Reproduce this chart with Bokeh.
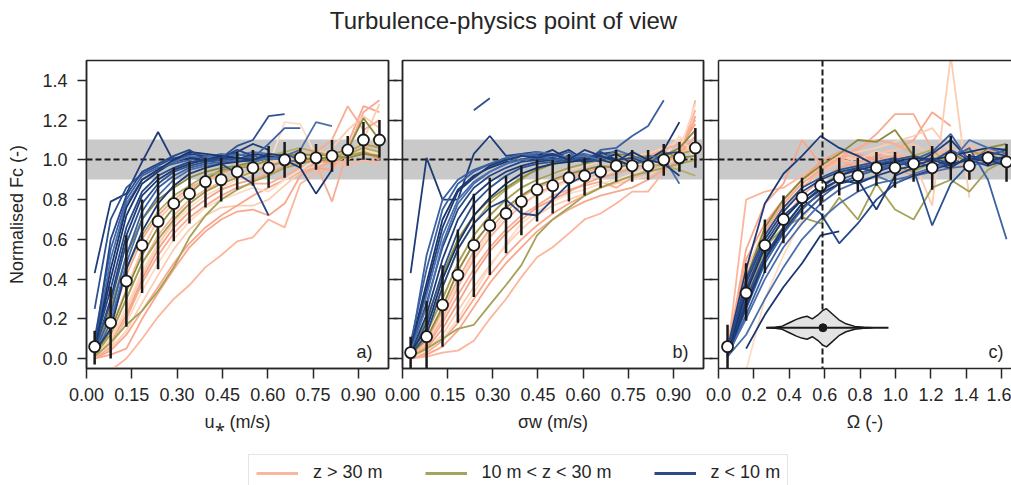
import numpy as np
from bokeh.plotting import figure
from bokeh.layouts import column, row
from bokeh.models import (Range1d, LinearAxis, FixedTicker, PrintfTickFormatter,
                          Label, Legend, LegendItem)
from bokeh.embed import file_html
from bokeh.resources import INLINE

FONT = "Liberation Sans"
INK = "#262626"

# ---------------- data ----------------
fc_ticks = [0.0, 0.2, 0.4, 0.6, 0.8, 1.0, 1.2, 1.4]
vel_ticks = [0.0, 0.15, 0.30, 0.45, 0.60, 0.75, 0.90]
omega_ticks = [0.0, 0.2, 0.4, 0.6, 0.8, 1.0, 1.2, 1.4, 1.6]

# panel a: friction velocity
ustar_bins = [0.027, 0.080, 0.132, 0.184, 0.237, 0.289, 0.341, 0.394, 0.446, 0.499,
              0.551, 0.603, 0.656, 0.708, 0.760, 0.813, 0.865, 0.917, 0.970]
ustar_mean = [0.06, 0.18, 0.39, 0.57, 0.69, 0.78, 0.83, 0.89, 0.90, 0.94,
              0.96, 0.96, 1.00, 1.01, 1.01, 1.02, 1.05, 1.10, 1.10]
ustar_lo = [-0.03, 0.00, 0.16, 0.33, 0.45, 0.59, 0.68, 0.76, 0.79, 0.85,
            0.87, 0.86, 0.91, 0.96, 0.95, 0.94, 0.97, 1.00, 1.01]
ustar_hi = [0.14, 0.36, 0.62, 0.80, 0.93, 0.96, 0.99, 1.01, 1.01, 1.04,
            1.05, 1.07, 1.09, 1.06, 1.08, 1.10, 1.12, 1.19, 1.20]
ustar_high = [  # z > 30 m
    [None, -0.06, 0.00, 0.10, 0.21, 0.30, 0.37, 0.46, 0.52, 0.59, 0.61, 0.70, 0.66, 0.88, 0.93, 0.96, 1.00, 1.05, 1.02],
    [0.00, 0.02, 0.05, 0.20, 0.33, 0.45, 0.56, 0.64, 0.70, 0.74, 0.75, 0.72, 0.78, 0.92, 0.96, 0.95, 1.08, 1.27, 1.24],
    [0.01, 0.05, 0.14, 0.28, 0.42, 0.55, 0.65, 0.72, 0.76, 0.77, 0.77, 0.80, 0.87, 0.94, 0.97, 1.00, 1.02, 1.10, 1.28],
    [0.00, 0.06, 0.20, 0.38, 0.52, 0.63, 0.71, 0.77, 0.82, 0.86, 0.88, 0.88, 0.92, 0.96, 0.98, 0.79, 1.05, 1.24, 1.30],
    [0.02, 0.10, 0.26, 0.44, 0.58, 0.68, 0.76, 0.82, 0.86, 0.90, 0.93, 0.97, 1.19, 1.18, 1.02, 1.01, 1.04, 1.08, 1.12],
    [0.01, 0.08, 0.22, 0.40, 0.55, 0.66, 0.74, 0.80, 0.85, 0.88, 0.90, 0.93, 0.97, 0.99, 1.00, 0.98, 1.02, 1.04, 1.00],
    [0.03, 0.15, 0.35, 0.55, 0.70, 0.78, 0.85, 0.89, 0.93, 0.95, 0.98, 0.97, 1.02, 1.06, 1.05, 1.03, 1.06, 1.02, 1.05],
    [0.02, 0.12, 0.30, 0.48, 0.62, 0.72, 0.80, 0.85, 0.89, 0.92, 0.94, 0.96, 0.99, 1.01, 1.02, 1.00, 0.97, 1.00, 0.98],
    [0.00, 0.04, 0.12, 0.24, 0.36, 0.48, 0.58, 0.66, 0.72, 0.77, 0.82, 0.86, 0.90, 0.94, 0.96, 0.99, 1.02, 1.06, 1.08],
    [0.01, 0.09, 0.24, 0.42, 0.57, 0.69, 0.78, 0.84, 0.88, 0.91, 0.95, 0.99, 1.00, 1.04, 1.00, 1.06, 1.15, 1.22, 1.16],
    [0.02, 0.18, 0.42, 0.60, 0.72, 0.80, 0.86, 0.90, 0.93, 0.96, 0.99, 1.01, 1.03, 1.02, 1.04, 1.10, 1.27, 1.15, 1.20],
    [0.01, 0.07, 0.18, 0.34, 0.48, 0.60, 0.69, 0.76, 0.80, 0.83, 0.86, 0.84, 0.90, 0.95, 1.00, 1.02, 1.01, 1.05, 1.03],
]
ustar_mid = [  # 10 m < z < 30 m
    [0.01, 0.08, 0.17, 0.24, 0.34, 0.46, 0.61, 0.72, 0.80, 0.85, 0.89, 0.92, 0.96, 0.98, 1.00, 1.01, 1.04, 1.08, 1.06],
    [0.02, 0.14, 0.34, 0.52, 0.66, 0.76, 0.83, 0.90, 0.95, 0.96, 0.97, 1.00, 1.02, 1.03, 1.02, 1.03, 1.05, 1.21, 1.10],
    [0.03, 0.20, 0.45, 0.62, 0.74, 0.82, 0.87, 0.92, 0.94, 0.96, 0.98, 1.02, 1.04, 1.06, 1.04, 1.02, 1.03, 1.06, 1.04],
    [0.02, 0.12, 0.30, 0.48, 0.60, 0.70, 0.78, 0.84, 0.88, 0.91, 0.94, 0.97, 0.99, 1.00, 1.01, 0.99, 1.02, 1.04, 1.01],
    [0.04, 0.25, 0.52, 0.70, 0.80, 0.86, 0.91, 0.94, 0.96, 0.97, 0.99, 1.01, 1.03, 1.01, 1.00, 1.02, 1.01, 1.03, 1.02],
]
ustar_low = [  # z < 10 m
    [0.43, 0.79, 0.83, 0.99, 1.14, 0.99, 1.03, 1.02, 1.01, 1.04, 1.08, 1.05],
    [0.25, 0.70, 0.86, 0.93, 0.97, 1.01, 1.02, 0.99, 1.01, 1.07, 1.10, 1.22, 1.23],
    [0.10, 0.55, 0.80, 0.92, 0.96, 0.98, 1.00, 1.02, 1.00, 1.03, 1.01, 1.08, 1.16, 1.16],
    [0.05, 0.40, 0.72, 0.88, 0.94, 0.99, 1.01, 1.00, 1.02, 1.01, 1.00, 1.02, 1.00, 0.96, 0.83, 0.95],
    [0.06, 0.50, 0.78, 0.90, 0.95, 0.99, 1.02, 1.01, 1.03, 1.02, 1.04, 1.03, 1.02, 1.05, 1.19, 1.17],
    [0.06, 0.35, 0.66, 0.84, 0.92, 0.96, 0.99, 1.00, 0.98, 0.93, 0.88, 0.72],
    [0.04, 0.30, 0.62, 0.82, 0.90, 0.95, 0.98, 1.00, 1.01, 1.00, 1.03, 1.02],
    [0.05, 0.28, 0.58, 0.78, 0.88, 0.94, 0.97, 0.99, 1.00, 1.01, 0.99, 1.01, 1.00],
    [0.03, 0.22, 0.52, 0.74, 0.86, 0.92, 0.96, 0.98, 0.99, 1.00, 1.02, 1.00, 1.03, 1.00],
    [0.04, 0.45, 0.76, 0.90, 0.95, 1.00, 1.04, 1.03, 1.02, 1.01, 1.00],
    [0.02, 0.18, 0.48, 0.70, 0.82, 0.90, 0.95, 0.97, 0.98, 1.00, 0.99, 1.01, 1.00, 0.99],
    [0.07, 0.60, 0.82, 0.94, 0.98, 1.02, 1.05, 1.00, 1.01, 1.05, 1.02],
    [0.03, 0.15, 0.45, 0.64, 0.78, 0.87, 0.93, 0.96, 0.98, 0.99, 1.00, 1.03, 1.02],
]

# panel b: sigma_w
sigma_bins = [0.027, 0.080, 0.133, 0.184, 0.237, 0.290, 0.344, 0.395, 0.447, 0.499,
              0.553, 0.605, 0.658, 0.710, 0.763, 0.816, 0.868, 0.920, 0.973]
sigma_mean = [0.03, 0.11, 0.27, 0.42, 0.57, 0.67, 0.73, 0.79, 0.85, 0.87,
              0.91, 0.92, 0.94, 0.97, 0.97, 0.97, 1.00, 1.01, 1.06]
sigma_lo = [-0.06, -0.05, 0.06, 0.18, 0.31, 0.42, 0.53, 0.62, 0.69, 0.73,
            0.79, 0.82, 0.86, 0.89, 0.89, 0.90, 0.92, 0.94, 0.96]
sigma_hi = [0.11, 0.29, 0.47, 0.65, 0.83, 0.91, 0.92, 0.97, 1.00, 1.00,
            1.03, 1.01, 1.01, 1.05, 1.05, 1.05, 1.08, 1.09, 1.16]
sigma_high = [  # z > 30 m
    [0.00, 0.01, 0.03, 0.04, 0.09, 0.20, 0.30, 0.41, 0.51, 0.56, 0.63, 0.70, 0.73, 0.78, 0.84, 0.84, 0.94, 0.98, 1.30],
    [0.00, 0.02, 0.06, 0.14, 0.26, 0.38, 0.48, 0.56, 0.64, 0.70, 0.75, 0.79, 0.82, 0.84, 0.86, 0.90, 0.95, 1.00, 1.22],
    [0.01, 0.04, 0.12, 0.24, 0.36, 0.47, 0.57, 0.65, 0.72, 0.77, 0.80, 0.83, 0.86, 0.88, 0.90, 0.92, 0.97, 1.02, 1.10],
    [0.01, 0.06, 0.18, 0.32, 0.45, 0.56, 0.65, 0.72, 0.77, 0.82, 0.85, 0.87, 0.89, 0.86, 0.91, 0.95, 1.00, 1.04, 1.08],
    [0.02, 0.08, 0.22, 0.38, 0.52, 0.63, 0.72, 0.78, 0.82, 0.86, 0.89, 0.90, 0.92, 0.95, 0.97, 0.99, 1.01, 1.12, 1.00],
    [0.00, 0.05, 0.15, 0.28, 0.42, 0.54, 0.63, 0.70, 0.76, 0.80, 0.84, 0.88, 0.91, 0.93, 0.96, 0.98, 1.02, 1.06, 1.18],
    [0.02, 0.10, 0.26, 0.44, 0.58, 0.68, 0.76, 0.82, 0.86, 0.90, 0.92, 0.94, 0.96, 0.98, 1.00, 1.01, 1.04, 1.02, 1.08],
    [0.01, 0.07, 0.20, 0.36, 0.50, 0.61, 0.70, 0.77, 0.83, 0.87, 0.90, 0.93, 0.95, 0.97, 0.99, 1.00, 0.99, 1.04, 1.25],
    [0.00, 0.03, 0.09, 0.18, 0.30, 0.42, 0.52, 0.60, 0.67, 0.73, 0.78, 0.82, 0.86, 0.89, 0.92, 0.95, 0.98, 1.03, 1.12],
    [0.02, 0.12, 0.30, 0.48, 0.62, 0.72, 0.80, 0.86, 0.90, 0.93, 0.95, 0.97, 0.99, 1.01, 1.02, 1.03, 1.06, 1.10, 1.04],
    [0.01, 0.09, 0.24, 0.40, 0.54, 0.65, 0.74, 0.81, 0.86, 0.89, 0.92, 0.94, 0.96, 0.98, 1.00, 1.02, 1.05, 1.08, 1.20],
    [0.00, 0.04, 0.10, 0.20, 0.33, 0.46, 0.58, 0.68, 0.74, 0.79, 0.83, 0.85, 0.88, 0.90, 0.93, 0.96, 1.00, 1.05, 1.28],
]
sigma_mid = [  # 10 m < z < 30 m
    [0.01, 0.05, 0.10, 0.15, 0.17, 0.27, 0.37, 0.47, 0.62, 0.70, 0.76, 0.82, 0.86, 0.89, 0.92, 0.94, 0.96, 0.98, 1.00],
    [0.02, 0.10, 0.26, 0.44, 0.58, 0.68, 0.76, 0.82, 0.87, 0.90, 0.93, 0.95, 0.97, 0.96, 0.98, 1.00, 1.02, 1.06, 1.15],
    [0.03, 0.16, 0.36, 0.55, 0.68, 0.78, 0.85, 0.90, 0.96, 0.98, 0.99, 1.00, 1.02, 1.01, 0.99, 0.98, 0.97, 0.95, 0.92],
    [0.02, 0.13, 0.30, 0.48, 0.62, 0.72, 0.80, 0.86, 0.90, 0.93, 0.96, 0.98, 1.00, 0.99, 1.01, 1.02, 1.00, 1.03, 1.05],
    [0.03, 0.20, 0.42, 0.60, 0.72, 0.80, 0.86, 0.91, 0.95, 0.98, 1.00, 1.02, 1.01, 1.03, 1.02, 1.00, 1.04, 1.01, 1.02],
]
sigma_low = [  # z < 10 m
    [0.43, 1.01, 0.80, 0.80, 1.03, 1.12, 1.02, 1.03, 1.04, 1.02, 1.05, 1.00, 1.03, 1.04],
    [None, None, None, None, 1.25, 1.31],
    [0.08, 0.45, 0.75, 0.88, 0.94, 0.98, 1.00, 1.02, 1.03, 1.01, 1.04, 0.98, 1.05, 1.06, 1.12, 1.17, 1.30],
    [0.06, 0.38, 0.70, 0.85, 0.92, 0.96, 0.99, 1.00, 1.02, 1.05, 1.00, 1.02, 1.00, 1.03, 0.98, 1.00, 1.05, 1.19],
    [0.05, 0.32, 0.62, 0.80, 0.89, 0.94, 0.98, 1.00, 1.01, 1.00, 1.02, 1.03, 1.01, 1.00, 0.96, 1.02, 1.01, 0.88],
    [0.04, 0.28, 0.56, 0.75, 0.86, 0.92, 0.96, 0.99, 1.00, 1.01, 0.99, 1.00, 1.04, 1.00, 1.01, 0.98, 1.03, 1.04],
    [0.03, 0.22, 0.50, 0.70, 0.82, 0.89, 0.94, 0.97, 0.99, 1.00, 1.02, 0.99, 1.00, 0.98],
    [0.02, 0.18, 0.44, 0.64, 0.78, 0.86, 0.92, 0.96, 0.98, 0.99, 1.00, 1.01, 0.99],
    [0.05, 0.52, 0.80, 0.90, 0.95, 0.98, 1.01, 1.03, 1.02, 1.00, 1.01, 1.03],
    [0.03, 0.15, 0.40, 0.58, 0.72, 0.81, 0.88, 0.93, 0.96, 0.98, 0.99, 1.00, 1.02, 1.00, 0.97],
    [0.04, 0.26, 0.58, 0.78, 0.88, 0.94, 0.98, 1.02, 1.04, 1.03, 1.01, 1.02, 1.00, 1.05, 1.02, 0.99, 1.01],
    [0.02, 0.12, 0.36, 0.55, 0.68, 0.76, 0.80, 0.73, 0.72, 0.80, 0.88, 0.92, 0.95],
    [0.06, 0.35, 0.66, 0.84, 0.91, 0.97, 1.00, 1.02, 1.01, 1.03, 1.00, 1.05, 1.02, 0.99, 1.04, 1.00, 0.98, 0.92],
]

# panel c: Omega
omega_bins = [0.051, 0.156, 0.262, 0.367, 0.472, 0.577, 0.682, 0.787,
              0.892, 0.997, 1.102, 1.207, 1.312, 1.417, 1.522, 1.627]
omega_mean = [0.06, 0.33, 0.57, 0.70, 0.81, 0.87, 0.91, 0.92,
              0.96, 0.96, 0.98, 0.96, 1.01, 0.97, 1.01, 0.99]
omega_lo = [-0.06, 0.19, 0.43, 0.58, 0.70, 0.77, 0.82, 0.84,
            0.87, 0.86, 0.89, 0.85, 0.90, 0.90, 0.97, 0.89]
omega_hi = [0.17, 0.48, 0.70, 0.82, 0.91, 0.97, 1.01, 1.01,
            1.04, 1.04, 1.07, 1.07, 1.12, 1.03, 1.04, 1.08]
omega_high = [  # z > 30 m
    [0.03, 0.80, 0.84, 0.86, 0.92, 0.98, 1.00, 1.02, 0.99, 1.03, 1.01, 0.98, 1.00, 1.02, 0.99, 1.01],
    [0.04, 0.55, 0.78, 0.88, 1.10, 0.98, 1.00, 0.96, 1.02, 1.05, 1.10, 1.24, 1.17],
    [0.02, 0.42, 0.64, 0.78, 0.90, 0.97, 1.02, 1.00, 1.04, 1.02, 1.00, 0.77, 1.52, 0.81],
    [0.01, 0.36, 0.60, 0.74, 0.86, 0.94, 1.00, 1.05, 1.13, 1.23, 1.23, 1.05, 1.02, 1.04, 1.00, 1.02],
    [None, -0.06, 0.30, 0.52, 0.70, 0.82, 0.90, 0.94, 0.97, 1.00, 1.02, 1.01, 0.99, 1.03, 1.00, 0.98],
    [0.02, 0.50, 0.68, 0.80, 0.90, 0.99, 1.04, 1.03, 1.00, 0.96, 0.92, 0.94, 1.00, 1.02, 1.05, 1.03],
    [0.01, 0.38, 0.62, 0.76, 0.86, 0.94, 0.99, 1.01, 1.03, 1.05, 1.08, 1.02, 0.98, 1.00, 1.01, 0.99],
    [0.03, 0.46, 0.62, 0.76, 0.86, 0.94, 1.00, 0.97, 0.95, 0.98, 1.01, 1.03, 1.05, 1.07, 1.04, 1.02],
    [0.02, 0.34, 0.56, 0.70, 0.82, 0.90, 0.96, 0.99, 1.01, 1.02, 1.00, 0.97, 0.95, 0.99, 1.02, 1.04],
    [0.02, 0.44, 0.66, 0.78, 0.88, 0.97, 1.02, 1.04, 1.06, 1.09, 1.12, 1.16, 1.04, 1.01, 1.00, 0.97],
    [0.01, 0.40, 0.64, 0.78, 0.88, 0.95, 1.01, 1.06, 1.10, 1.08, 1.03, 0.99, 1.02, 1.00, 0.98, 1.01],
]
omega_mid = [  # 10 m < z < 30 m
    [0.02, 0.32, 0.56, 0.66, 0.71, 0.68, 0.81, 0.70, 0.88, 0.75, 0.70, 0.86, 0.90, 0.84, 0.95, 1.00],
    [0.03, 0.40, 0.66, 0.80, 0.90, 0.97, 1.03, 1.10, 1.09, 1.15, 1.02, 1.00, 1.04, 0.98, 1.06, 1.08],
    [0.02, 0.30, 0.55, 0.70, 0.80, 0.87, 0.93, 0.96, 0.98, 1.00, 1.02, 1.05, 0.97, 1.00, 1.03, 1.00],
    [0.01, 0.27, 0.50, 0.65, 0.76, 0.83, 0.88, 0.92, 0.95, 0.97, 0.94, 0.99, 1.02, 1.05, 1.01, 1.06],
]
omega_low = [  # z < 10 m
    [0.05, 0.45, 0.78, 0.93, 1.02, 1.12, 1.06, 1.02, 0.97, 1.00, 0.98, 1.03, 1.10, 1.00, 1.04, 1.02],
    [0.02, 0.30, 0.52, 0.66, 0.78, 0.86, 0.92, 0.96, 0.98, 1.00, 1.02, 0.99, 1.05, 1.00, 1.03, 0.98],
    [0.01, 0.22, 0.44, 0.60, 0.72, 0.81, 0.88, 0.92, 0.95, 0.98, 1.00, 0.96, 1.01, 1.06, 0.90, 0.60],
    [None, 0.05, 0.22, 0.36, 0.48, 0.62, 0.64],
    [0.01, 0.12, 0.30, 0.46, 0.60, 0.70, 0.78, 0.84, 0.88, 0.90, 0.92, 0.94, 0.96, 0.97, 0.99, 1.00],
    [0.03, 0.35, 0.58, 0.72, 0.80, 0.73, 0.58, 0.68, 0.80, 0.88, 0.92, 0.95, 0.98, 1.00, 0.97, 1.00],
    [0.02, 0.28, 0.50, 0.64, 0.76, 0.83, 0.88, 0.90, 0.75, 0.92, 0.96, 0.98, 0.96, 1.02, 1.00, 0.97],
    [0.04, 0.40, 0.62, 0.76, 0.86, 0.91, 0.95, 0.97, 0.99, 1.01, 0.95, 0.67, 0.88, 0.98, 1.02, 1.05],
    [0.01, 0.25, 0.48, 0.63, 0.75, 0.84, 0.90, 0.93, 0.96, 0.98, 1.00, 1.04, 1.13, 0.99, 1.01, 0.98],
    [0.03, 0.33, 0.56, 0.70, 0.80, 0.87, 0.92, 0.95, 0.97, 0.99, 1.01, 1.00, 1.02, 1.04, 1.06, 1.05],
    [0.02, 0.20, 0.40, 0.56, 0.68, 0.78, 0.85, 0.89, 0.92, 0.88, 0.93, 0.96, 0.99, 1.10, 1.06, 1.03],
    [0.04, 0.38, 0.60, 0.74, 0.84, 0.90, 0.94, 0.96, 0.94, 0.97, 0.99, 1.01, 0.98, 1.00, 1.02, 1.00],
    [0.02, 0.26, 0.50, 0.66, 0.78, 0.85, 0.90, 0.88, 0.92, 0.95, 0.97, 1.00, 0.97, 1.01, 0.99, 1.02],
]
omega_threshold = 0.59
# distribution of the threshold (violin, drawn at y = violin_level)
violin_x = [0.27, 0.32, 0.36, 0.40, 0.44, 0.47, 0.50, 0.53, 0.56, 0.59,
            0.61, 0.64, 0.68, 0.72, 0.77, 0.82, 0.87]
violin_w = [0.000, 0.003, 0.008, 0.025, 0.042, 0.052, 0.058, 0.045, 0.063, 0.088,
            0.096, 0.072, 0.040, 0.020, 0.007, 0.002, 0.000]
violin_range = [0.27, 0.96]
violin_median = 0.59
violin_level = 0.155

group_labels = ["z > 30 m", "10 m < z < 30 m", "z < 10 m"]
group_colors = ["#f9b79f", "#a6a35a", "#2b4a86"]
high_shades = ["#fcb69c", "#f9a88d", "#fdcdb1", "#f6ad93", "#fedcc3", "#f4a184", "#fbc3a8"]
mid_shades = ["#a4a257", "#8e8a3c", "#b0ad65"]
low_shades = ["#1e3c78", "#2d5291", "#3c61a2", "#1a366f", "#4a6fab", "#264888"]


def style_axis(ax, tick_out, standoff=8):
    ax.axis_line_color = INK
    ax.axis_line_width = 1.5
    ax.major_tick_line_color = INK
    ax.major_tick_line_width = 1.5
    ax.major_tick_out = tick_out
    ax.major_tick_in = 0
    ax.minor_tick_line_color = None
    ax.major_label_text_font = FONT
    ax.major_label_text_color = INK
    ax.major_label_text_font_size = "18px"
    ax.major_label_standoff = standoff
    ax.axis_label_text_font = FONT
    ax.axis_label_text_font_size = "18px"
    ax.axis_label_text_font_style = "normal"
    ax.axis_label_text_color = INK


def tick_only_axis(ticks, tick_out):
    # ticks without labels: drawn as minor ticks of an axis with no major ticks
    ax = LinearAxis(ticker=FixedTicker(ticks=[], minor_ticks=ticks))
    ax.axis_line_color = INK
    ax.axis_line_width = 1.5
    ax.major_tick_out = tick_out
    ax.major_tick_in = 0
    ax.major_tick_line_color = None
    ax.minor_tick_out = tick_out
    ax.minor_tick_in = 0
    ax.minor_tick_line_color = INK
    ax.minor_tick_line_width = 1.5
    return ax


def make_panel(width, x_end, bins, high, mid, low, mean, lo, hi, xticks, xfmt, xlabel,
               letter, letter_x, border_left, border_right, left_labels):
    p = figure(width=width, height=390, x_range=Range1d(0, x_end), y_range=Range1d(-0.05, 1.5),
               output_backend="svg", toolbar_location=None, tools="",
               x_axis_location="below", y_axis_location="left" if left_labels else None,
               min_border_left=border_left, min_border_right=border_right,
               min_border_top=10, min_border_bottom=72)
    p.grid.visible = False
    p.background_fill_color = "white"
    p.border_fill_alpha = 0
    p.outline_line_color = INK
    p.outline_line_width = 1.5

    # tolerance band and unit line
    p.hstrip(y0=[0.9], y1=[1.1], fill_color="#c9c9c9", line_color=None)
    p.hspan(y=[1.0], line_color="#1a1a1a", line_width=2, line_dash="6 3")

    for group, shades in ((high, high_shades), (mid, mid_shades), (low, low_shades)):
        for i, vals in enumerate(group):
            ys = np.array(vals, dtype=float)
            p.line(bins[:len(ys)], ys, line_color=shades[i % len(shades)], line_width=1.8)

    p.segment(x0=bins, y0=lo, x1=bins, y1=hi, line_color="#1a1a1a", line_width=2.5)
    p.scatter(bins, mean, size=11, fill_color="white", line_color="#1a1a1a", line_width=1.8)

    xa = p.xaxis[0]
    xa.ticker = FixedTicker(ticks=xticks)
    xa.formatter = PrintfTickFormatter(format=xfmt)
    xa.axis_label = xlabel
    style_axis(xa, 10, standoff=9)
    xa.axis_label_standoff = 8

    if left_labels:
        ya = p.yaxis[0]
        ya.ticker = FixedTicker(ticks=fc_ticks)
        ya.formatter = PrintfTickFormatter(format="%.1f")
        style_axis(ya, 9, standoff=10)
        ya.axis_label = "Normalised Fc (-)"
        ya.axis_label_standoff = 12
    else:
        p.add_layout(tick_only_axis(fc_ticks, 9), "left")

    p.add_layout(Label(x=letter_x, y=0.035, text=letter, text_align="right",
                       text_baseline="alphabetic", text_font=FONT, text_font_size="18px",
                       text_color=INK))
    return p


# panel a: canvas 0..402, frame 86..388
pa = make_panel(402, 1.0, ustar_bins, ustar_high, ustar_mid, ustar_low,
                ustar_mean, ustar_lo, ustar_hi, vel_ticks, "%.2f", "u\u204e (m/s)", "a)", 0.947,
                86, 14, True)
pa.add_layout(tick_only_axis(fc_ticks, 9), "right")

# panel b: canvas 372..717, frame 402..703 (overlaps a's right border)
pb = make_panel(345, 1.0, sigma_bins, sigma_high, sigma_mid, sigma_low,
                sigma_mean, sigma_lo, sigma_hi, vel_ticks, "%.2f", "\u03c3w (m/s)", "b)", 0.950,
                30, 14, False)
pb.add_layout(tick_only_axis(fc_ticks, 9), "right")
pb.margin = (0, 0, 0, -30)

# panel c: canvas 688..1011, frame 718..1011
pc = make_panel(323, 1.655, omega_bins, omega_high, omega_mid, omega_low,
                omega_mean, omega_lo, omega_hi, omega_ticks, "%.1f", "\u03a9 (-)", "c)", 1.61,
                30, 0, False)
pc.margin = (0, 0, 0, -29)
pc.outline_line_color = None
top_c = LinearAxis(ticker=FixedTicker(ticks=[]))
top_c.axis_line_color = INK
top_c.axis_line_width = 1.5
top_c.major_tick_out = 0
top_c.major_tick_in = 0
top_c.minor_tick_line_color = None
pc.add_layout(top_c, "above")
pc.xaxis[0].axis_label_text_font_style = "bold"

# threshold line and its distribution
pc.vspan(x=[omega_threshold], line_color="#1a1a1a", line_width=2, line_dash="6 3")
vy_top = [violin_level + w for w in violin_w]
vy_bot = [violin_level - w for w in violin_w]
pc.patch(violin_x + violin_x[::-1], vy_top + vy_bot[::-1], fill_color="#e3e3e3",
         line_color="#1a1a1a", line_width=1.5)
pc.line(violin_range, [violin_level, violin_level], line_color="#1a1a1a", line_width=2)
pc.scatter([violin_median], [violin_level], size=8, fill_color="#1a1a1a", line_color="#1a1a1a")

# title
tf = figure(width=1011, height=50, x_range=Range1d(0, 1011), y_range=Range1d(0, 50),
            output_backend="svg", toolbar_location=None, tools="",
            x_axis_location=None, y_axis_location=None, min_border=0)
tf.grid.visible = False
tf.outline_line_color = None
tf.add_layout(Label(x=503, y=30, text="Turbulence-physics point of view", text_align="center",
                    text_baseline="middle", text_font=FONT, text_font_size="24px",
                    text_color=INK))

# legend
lf = figure(width=1011, height=45, x_range=Range1d(0, 1), y_range=Range1d(0, 1),
            output_backend="svg", toolbar_location=None, tools="",
            x_axis_location=None, y_axis_location=None, min_border=0)
lf.grid.visible = False
lf.outline_line_color = None
items = []
for lab, col in zip(group_labels, group_colors):
    r = lf.line([np.nan], [np.nan], line_color=col, line_width=3)
    items.append(LegendItem(label=lab, renderers=[r]))
leg = Legend(items=items, orientation="horizontal", location=(248, -6),
             label_text_font=FONT, label_text_font_size="18px", label_text_color=INK,
             border_line_color="#cccccc", border_line_width=1, background_fill_alpha=1,
             padding=7, spacing=42, glyph_width=42, label_standoff=15, margin=0)
lf.add_layout(leg)

layout = column(tf, row(pa, pb, pc), lf)
open("out.html", "w").write(file_html(layout, INLINE))
